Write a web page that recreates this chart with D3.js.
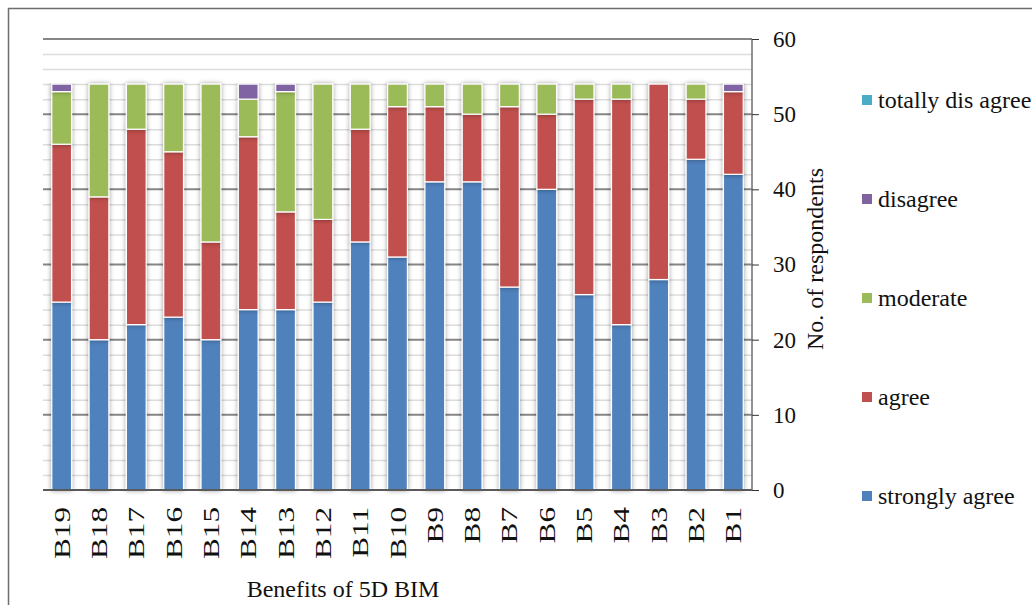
<!DOCTYPE html>
<html>
<head>
<meta charset="utf-8">
<script src="https://cdn.jsdelivr.net/npm/d3@7"></script>
<style>
  html, body { margin: 0; padding: 0; background: #fff; }
  svg { display: block; font-family: "Liberation Serif", "Times New Roman", serif; }
</style>
</head>
<body>
<svg id="chart" width="1032" height="605"></svg>
<script>
// Benefits of 5D BIM – responses per benefit (stacked, bottom to top)
const categories = ["B19","B18","B17","B16","B15","B14","B13","B12","B11","B10","B9","B8","B7","B6","B5","B4","B3","B2","B1"];
const stronglyAgree   = [25,20,22,23,20,24,24,25,33,31,41,41,27,40,26,22,28,44,42];
const agree           = [21,19,26,22,13,23,13,11,15,20,10, 9,24,10,26,30,26, 8,11];
const moderate        = [ 7,15, 6, 9,21, 5,16,18, 6, 3, 3, 4, 3, 4, 2, 2, 0, 2, 0];
const disagree        = [ 1, 0, 0, 0, 0, 2, 1, 0, 0, 0, 0, 0, 0, 0, 0, 0, 0, 0, 1];
const totallyDisagree = [ 0, 0, 0, 0, 0, 0, 0, 0, 0, 0, 0, 0, 0, 0, 0, 0, 0, 0, 0];
const seriesNames  = ["strongly agree","agree","moderate","disagree","totally dis agree"];
const seriesColors = ["#4f81bd","#c0504d","#9bbb59","#8064a2","#4bacc6"];
const yTicks = [0,10,20,30,40,50,60];

const seriesValues = [stronglyAgree, agree, moderate, disagree, totallyDisagree];
const rows = categories.map((c, i) => {
  const r = { cat: c };
  seriesNames.forEach((s, k) => r[s] = seriesValues[k][i]);
  return r;
});

const svg = d3.select("#chart");
const plot = { left: 43, right: 752, top: 39, bottom: 490 };

const x = d3.scaleBand().domain(categories).range([plot.left, plot.right]).paddingInner(0.47).paddingOuter(0.235);
const y = d3.scaleLinear().domain([0, 60]).range([plot.bottom, plot.top]);

// outer frame
svg.append("path")
  .attr("d", "M8.5,605 L8.5,8.5 L1032,8.5")
  .attr("fill", "none").attr("stroke", "#6e6e6e").attr("stroke-width", 1.5);

// soft shadow behind the bars
const defs = svg.append("defs");
const f = defs.append("filter").attr("id", "shadow").attr("x", "-40%").attr("y", "-5%").attr("width", "180%").attr("height", "110%");
f.append("feGaussianBlur").attr("in", "SourceAlpha").attr("stdDeviation", 2.8).attr("result", "blur");
f.append("feComponentTransfer").attr("in", "blur").attr("result", "sh")
  .append("feFuncA").attr("type", "linear").attr("slope", 0.4);
const fm = f.append("feMerge");
fm.append("feMergeNode").attr("in", "sh");
fm.append("feMergeNode").attr("in", "SourceGraphic");

// minor gridlines every 2
const minor = d3.range(2, 60, 2).filter(v => v % 10 !== 0);
svg.append("g").selectAll("line").data(minor).join("line")
  .attr("x1", plot.left).attr("x2", plot.right)
  .attr("y1", d => y(d) + 0.5).attr("y2", d => y(d) + 0.5)
  .attr("stroke", "#dcdcdc").attr("stroke-width", 1.5);

// major gridlines
svg.append("g").selectAll("line").data(yTicks.filter(v => v > 0)).join("line")
  .attr("x1", plot.left).attr("x2", plot.right)
  .attr("y1", d => y(d)).attr("y2", d => y(d))
  .attr("stroke", "#868686").attr("stroke-width", 2);

// stacked bars
const stack = d3.stack().keys(seriesNames)(rows);
const gBars = svg.append("g");
stack.forEach((layer, k) => {
  gBars.append("g").attr("fill", seriesColors[k]).attr("filter", "url(#shadow)")
    .selectAll("rect").data(layer.filter(d => d[1] - d[0] > 0)).join("rect")
    .attr("x", d => x(d.data.cat))
    .attr("width", x.bandwidth())
    .attr("y", d => y(d[1]))
    .attr("height", d => y(d[0]) - y(d[1]))
    .attr("stroke", "#ffffff").attr("stroke-width", 1.2);
});

// baseline
svg.append("line")
  .attr("x1", plot.left).attr("x2", plot.right)
  .attr("y1", plot.bottom).attr("y2", plot.bottom)
  .attr("stroke", "#5a5a5a").attr("stroke-width", 2);

// right value axis
const yAxis = d3.axisRight(y).tickValues(yTicks).tickSize(7).tickPadding(14).tickFormat(d3.format("d"));
const ya = svg.append("g").attr("transform", `translate(${plot.right},0)`).call(yAxis);
ya.select(".domain").attr("stroke", "#6e6e6e").attr("stroke-width", 1.5).attr("d", `M0,${plot.top}V${plot.bottom}`);
ya.selectAll(".tick line").attr("stroke", "#333");
ya.selectAll(".tick text").attr("font-size", 23).attr("fill", "#111").attr("font-family", "Liberation Serif");

// category labels (rotated)
svg.append("g").selectAll("text").data(categories).join("text")
  .attr("transform", d => `translate(${x(d) + x.bandwidth() / 2 + 8},${507}) rotate(-90) scale(1.3,1)`)
  .attr("text-anchor", "end")
  .attr("font-size", 24).attr("fill", "#111")
  .text(d => d);

// axis titles
svg.append("text")
  .attr("x", 343).attr("y", 597)
  .attr("text-anchor", "middle").attr("font-size", 24).attr("fill", "#111")
  .text("Benefits of 5D BIM");

svg.append("text")
  .attr("transform", `translate(823,259) rotate(-90)`)
  .attr("text-anchor", "middle").attr("font-size", 24).attr("fill", "#111")
  .text("No. of respondents");

// legend (top entry = last series)
const legendItems = seriesNames.slice().reverse();
const legendColors = seriesColors.slice().reverse();
const ly = d3.scalePoint().domain(legendItems).range([100, 496]);
const lg = svg.append("g").selectAll("g").data(legendItems).join("g")
  .attr("transform", d => `translate(862,${ly(d)})`);
lg.append("rect").attr("x", 0).attr("y", -5).attr("width", 10).attr("height", 10)
  .attr("fill", (d, i) => legendColors[i]);
lg.append("text").attr("x", 16).attr("y", 0).attr("dy", "0.33em")
  .attr("font-size", 24).attr("fill", "#111").text(d => d);
</script>
</body>
</html>
